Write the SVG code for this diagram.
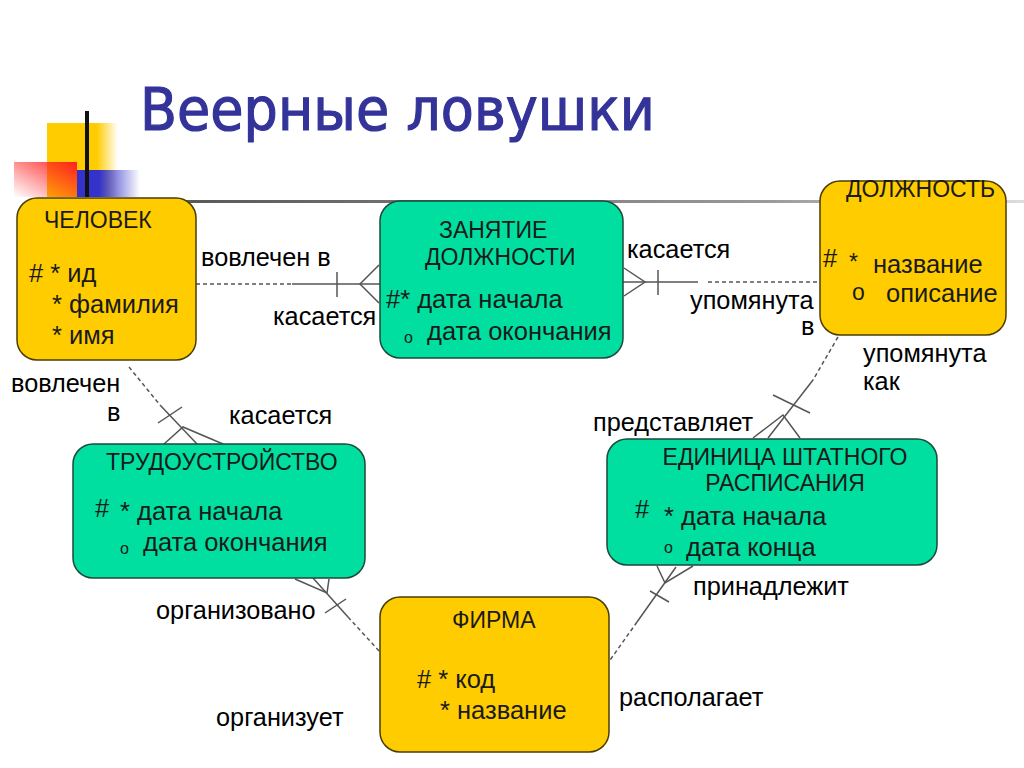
<svg xmlns="http://www.w3.org/2000/svg" width="1024" height="768" viewBox="0 0 1024 768">
<defs>
<linearGradient id="gY" x1="0" y1="0" x2="1" y2="0"><stop offset="0.7" stop-color="#FFCC00"/><stop offset="1" stop-color="#FFCC00" stop-opacity="0"/></linearGradient>
<linearGradient id="gB" x1="0" y1="0" x2="1" y2="0"><stop offset="0.35" stop-color="#3333CC"/><stop offset="1" stop-color="#3333CC" stop-opacity="0"/></linearGradient>
<linearGradient id="gR" x1="1" y1="0" x2="0" y2="1"><stop offset="0" stop-color="#FF2020"/><stop offset="1" stop-color="#FF2020" stop-opacity="0"/></linearGradient>
<linearGradient id="gL" x1="0" y1="0" x2="1" y2="0"><stop offset="0" stop-color="#555"/><stop offset="0.7" stop-color="#999"/><stop offset="1" stop-color="#ddd"/></linearGradient>
</defs>
<style>
.y{fill:#FFCC00;stroke:#4a3d00;stroke-width:1.5}
.g{fill:#00DF9F;stroke:#1d4a3a;stroke-width:1.5}
.t{font-family:"Liberation Sans",Arial,sans-serif;fill:#1a1a1a}
.h{font-size:23px}
.a{font-size:25.5px}
.s{font-size:16px}
.l{font-family:"Liberation Sans",Arial,sans-serif;font-size:25.3px;fill:#000}
.c{stroke:#555;stroke-width:1.5;fill:none}
.d{stroke:#555;stroke-width:1.5;fill:none;stroke-dasharray:4 3}
</style>
<rect width="1024" height="768" fill="#fff"/>
<g id="decor">
<rect x="47" y="123" width="71" height="74" fill="url(#gY)"/>
<rect x="14" y="162" width="63" height="35" fill="url(#gR)"/>
<rect x="77" y="170" width="63" height="27" fill="url(#gB)"/>
<rect x="85" y="111" width="4" height="86" fill="#111"/>
<rect x="150" y="200" width="874" height="3" fill="url(#gL)"/>
<text x="140" y="130" font-family="DejaVu Sans,Verdana,sans-serif" font-size="58" fill="#333399" stroke="#333399" stroke-width="1.2" textLength="515" lengthAdjust="spacingAndGlyphs">Веерные ловушки</text>
</g>
<g id="connectors">
<line class="d" x1="196" y1="284" x2="292" y2="284"/>
<line class="c" x1="292" y1="284" x2="380" y2="284"/>
<line class="c" x1="337" y1="272" x2="337" y2="297"/>
<polyline class="c" points="379,265 360,284 379,303"/>
<line class="c" x1="623" y1="282" x2="698" y2="282"/>
<line class="d" x1="708" y1="282" x2="820" y2="282"/>
<line class="c" x1="658" y1="270" x2="658" y2="295"/>
<polyline class="c" points="624,268 645,282 624,296"/>
<line class="d" x1="129" y1="367" x2="160" y2="405"/>
<line class="c" x1="160" y1="405" x2="197" y2="444"/>
<line class="c" x1="158" y1="423" x2="182" y2="407"/>
<polyline class="c" points="164,444 183,427 223,444"/>
<line class="d" x1="838" y1="337" x2="813" y2="380"/>
<line class="c" x1="813" y1="380" x2="768" y2="438"/>
<line class="c" x1="773" y1="395" x2="810" y2="413"/>
<polyline class="c" points="753,438 783,415 800,438"/>
<polyline class="c" points="295,579 327,593 329,579"/>
<line class="c" x1="313" y1="578" x2="348" y2="617"/>
<line class="d" x1="348" y1="617" x2="380" y2="652"/>
<line class="c" x1="325" y1="613" x2="346" y2="599"/>
<polyline class="c" points="657,566 665,583 693,566"/>
<line class="c" x1="676" y1="567" x2="637" y2="622"/>
<line class="d" x1="637" y1="622" x2="603" y2="670"/>
<line class="c" x1="650" y1="591" x2="669" y2="602"/>
</g>
<g id="chelovek">
<rect class="y" x="17" y="198" width="179" height="162" rx="20"/>
<text class="t h" x="44" y="228">ЧЕЛОВЕК</text>
<text class="t a" x="29" y="282"># * ид</text>
<text class="t a" x="52" y="313">* фамилия</text>
<text class="t a" x="52" y="344">* имя</text>
</g>
<g id="zanyatie">
<rect class="g" x="380" y="201" width="243" height="157" rx="20"/>
<text class="t h" x="439" y="238">ЗАНЯТИЕ</text>
<text class="t h" x="425" y="265">ДОЛЖНОСТИ</text>
<text class="t a" x="386" y="308">#* дата начала</text>
<text class="t s" x="404" y="343">o</text>
<text class="t a" x="427" y="340">дата окончания</text>
</g>
<g id="dolzhnost">
<rect class="y" x="820" y="181" width="186" height="154" rx="20"/>
<text class="t h" x="846" y="197">ДОЛЖНОСТЬ</text>
<text class="t a" x="823" y="267">#</text>
<text class="t h" x="849" y="270">*</text>
<text class="t a" x="873" y="273">название</text>
<text class="t h" x="852" y="300">o</text>
<text class="t a" x="886" y="302">описание</text>
</g>
<g id="trudoustroystvo">
<rect class="g" x="73" y="444" width="292" height="134" rx="20"/>
<text class="t h" x="106" y="470">ТРУДОУСТРОЙСТВО</text>
<text class="t a" x="95" y="517">#</text>
<text class="t a" x="120" y="520">* дата начала</text>
<text class="t s" x="120" y="554">o</text>
<text class="t a" x="143" y="551">дата окончания</text>
</g>
<g id="edinica">
<rect class="g" x="607" y="439" width="330" height="126" rx="20"/>
<text class="t h" x="785" y="465" text-anchor="middle">ЕДИНИЦА ШТАТНОГО</text>
<text class="t h" x="785" y="491" text-anchor="middle">РАСПИСАНИЯ</text>
<text class="t a" x="635" y="518">#</text>
<text class="t a" x="664" y="525">* дата начала</text>
<text class="t s" x="664" y="553">o</text>
<text class="t a" x="686" y="556">дата конца</text>
</g>
<g id="firma">
<rect class="y" x="380" y="597" width="229" height="155" rx="20"/>
<text class="t h" x="452" y="628">ФИРМА</text>
<text class="t a" x="417" y="688"># * код</text>
<text class="t a" x="440" y="719">* название</text>
</g>
<g id="labels">
<text class="l" x="201" y="266">вовлечен в</text>
<text class="l" x="273" y="325">касается</text>
<text class="l" x="627" y="258">касается</text>
<text class="l" x="690" y="309">упомянута</text>
<text class="l" x="801" y="335">в</text>
<text class="l" x="863" y="362">упомянута</text>
<text class="l" x="863" y="390">как</text>
<text class="l" x="11" y="392">вовлечен</text>
<text class="l" x="107" y="421">в</text>
<text class="l" x="229" y="424">касается</text>
<text class="l" x="593" y="431">представляет</text>
<text class="l" x="693" y="595">принадлежит</text>
<text class="l" x="156" y="619">организовано</text>
<text class="l" x="216" y="726">организует</text>
<text class="l" x="619" y="706">располагает</text>
</g>
</svg>
